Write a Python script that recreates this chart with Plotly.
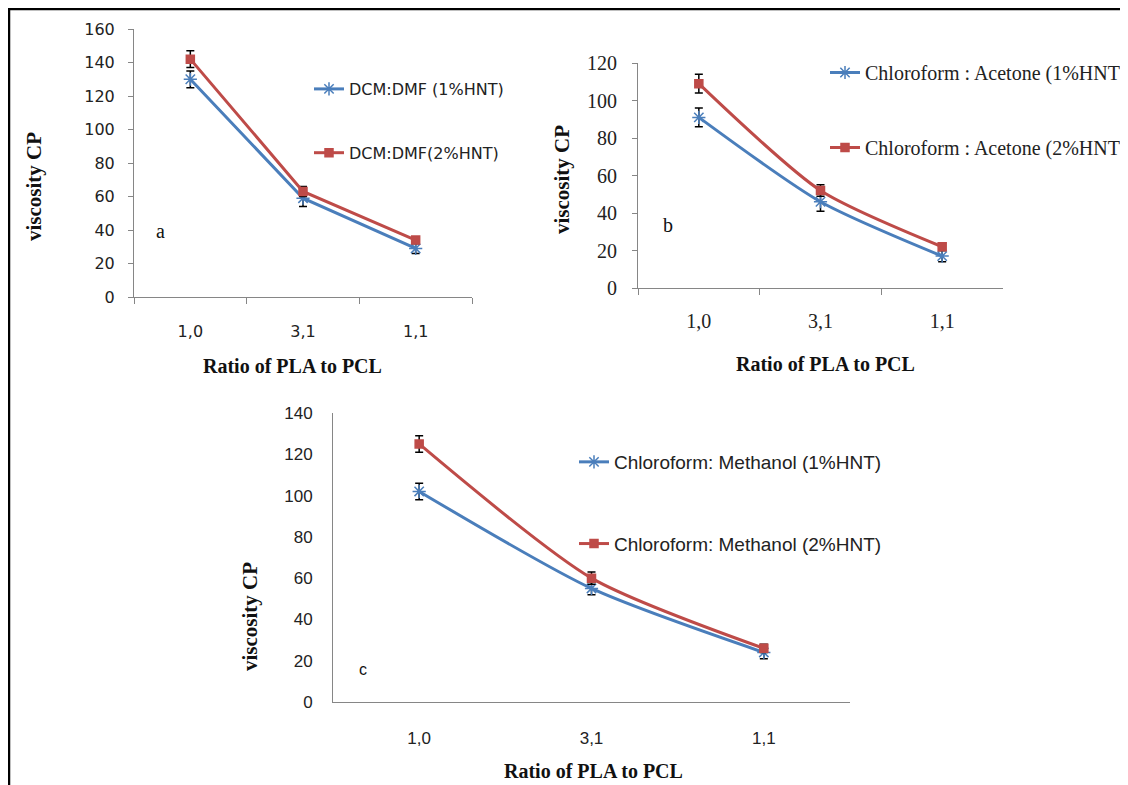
import plotly.graph_objects as go

# page body has an 8px margin; the figure is offset accordingly
OFF = 8
W, H = 1120, 777

ratios = ["1,0", "3,1", "1,1"]

a_1hnt = [130, 59, 29]
a_2hnt = [142, 63, 34]
a_err1 = [5, 5, 3]
a_err2 = [5, 3, 2]

b_1hnt = [91, 46, 17]
b_2hnt = [109, 52, 22]
b_err1 = [5, 5, 3]
b_err2 = [5, 3, 2]

c_1hnt = [102, 55, 24]
c_2hnt = [125, 60, 26]
c_err1 = [4, 3, 3]
c_err2 = [4, 3, 2]

names_a = ["DCM:DMF (1%HNT)", "DCM:DMF(2%HNT)"]
names_b = ["Chloroform : Acetone (1%HNT)", "Chloroform : Acetone (2%HNT)"]
names_c = ["Chloroform: Methanol (1%HNT)", "Chloroform: Methanol (2%HNT)"]

BLUE = "#4A7EBB"
RED = "#BE4B48"
AX = "#868686"

WSANS = "DejaVu Sans, Verdana, sans-serif"
SANS = "Liberation Sans, Arial, sans-serif"
SERIF = "Liberation Serif, Times New Roman, serif"


def px(x):
    return (x - OFF) / W


def py(y):
    return 1 - (y - OFF) / H


fig = go.Figure()


def add_pair(xa, ya, v1, v2, e1, e2, names, legend, shape):
    for vals, err, name, color, sym, msize, grp in [
        (v1, e1, names[0], BLUE, "asterisk-open", 11, "g1"),
        (v2, e2, names[1], RED, "square", 8, "g2"),
    ]:
        fig.add_trace(go.Scatter(
            x=ratios, y=vals, name=name, mode="lines+markers",
            xaxis=xa, yaxis=ya, legend=legend, legendgroup=grp,
            line=dict(color=color, width=3, shape=shape, smoothing=0.7),
            marker=dict(symbol=sym, size=msize, color=color,
                        line=dict(color=color, width=1.5)),
            error_y=dict(type="data", array=err, visible=True,
                         color="black", thickness=1.5, width=4),
        ))


add_pair("x", "y", a_1hnt, a_2hnt, a_err1, a_err2, names_a, "legend", "linear")
add_pair("x2", "y2", b_1hnt, b_2hnt, b_err1, b_err2, names_b, "legend2", "spline")
add_pair("x3", "y3", c_1hnt, c_2hnt, c_err1, c_err2, names_c, "legend3", "spline")

xcommon = dict(type="category", range=[-0.5, 2.5], showline=True, linecolor=AX,
               linewidth=1, showgrid=False, zeroline=False, fixedrange=True)
ycommon = dict(showline=True, linecolor=AX, linewidth=1, showgrid=False,
               zeroline=False)

fig.update_layout(
    width=W, height=H,
    margin=dict(l=0, r=0, t=0, b=0, autoexpand=False),
    paper_bgcolor="white", plot_bgcolor="white",
    showlegend=True,
    xaxis=dict(**xcommon, domain=[px(134), px(472)], anchor="y",
               ticks="outside", tickson="boundaries", ticklen=6, tickcolor=AX,
               ticklabelstandoff=20,
               tickfont=dict(family=WSANS, size=16, color="#222")),
    yaxis=dict(**ycommon, domain=[py(297), py(29)], anchor="x", range=[0, 160],
               tickvals=[0, 20, 40, 60, 80, 100, 120, 140, 160],
               ticks="outside", ticklen=5, tickcolor=AX, ticklabelstandoff=10,
               tickfont=dict(family=WSANS, size=16, color="#222")),
    xaxis2=dict(**xcommon, domain=[px(638), px(1003)], anchor="y2",
                ticks="outside", tickson="boundaries", ticklen=6, tickcolor=AX,
                ticklabelstandoff=15,
                tickfont=dict(family=SERIF, size=20, color="#222")),
    yaxis2=dict(**ycommon, domain=[py(288), py(63)], anchor="x2", range=[0, 120],
                tickvals=[0, 20, 40, 60, 80, 100, 120],
                ticks="outside", ticklen=5, tickcolor=AX, ticklabelstandoff=11,
                tickfont=dict(family=SERIF, size=20, color="#222")),
    xaxis3=dict(**xcommon, domain=[px(333), px(850)], anchor="y3",
                ticks="", ticklabelstandoff=21,
                tickfont=dict(family=SANS, size=17, color="#222")),
    yaxis3=dict(**ycommon, domain=[py(702), py(413)], anchor="x3", range=[0, 140],
                tickvals=[0, 20, 40, 60, 80, 100, 120, 140],
                ticks="", ticklabelstandoff=16,
                tickfont=dict(family=SANS, size=17, color="#222")),
    legend=dict(x=px(309), y=py(72), xanchor="left", yanchor="top",
                orientation="v", tracegroupgap=40, bgcolor="rgba(0,0,0,0)",
                font=dict(family=WSANS, size=16, color="#222"), itemwidth=30),
    legend2=dict(x=px(825), y=py(53), xanchor="left", yanchor="top",
                 orientation="v", tracegroupgap=46, bgcolor="rgba(0,0,0,0)",
                 font=dict(family=SERIF, size=20, color="#222"), itemwidth=30),
    legend3=dict(x=px(574), y=py(443), xanchor="left", yanchor="top",
                 orientation="v", tracegroupgap=54, bgcolor="rgba(0,0,0,0)",
                 font=dict(family=SANS, size=19, color="#222"), itemwidth=30),
)

annotations = [
    dict(text="viscosity CP", x=px(34), y=py(187), textangle=-90,
         font=dict(family=SERIF, size=21, color="#111", weight="bold")),
    dict(text="Ratio of PLA to PCL", x=px(292), y=py(366),
         font=dict(family=SERIF, size=20, color="#111", weight="bold")),
    dict(text="a", x=px(161), y=py(231), font=dict(family=SERIF, size=20, color="#111")),
    dict(text="viscosity CP", x=px(562), y=py(180), textangle=-90,
         font=dict(family=SERIF, size=21, color="#111", weight="bold")),
    dict(text="Ratio of PLA to PCL", x=px(825), y=py(364),
         font=dict(family=SERIF, size=20, color="#111", weight="bold")),
    dict(text="b", x=px(668), y=py(225), font=dict(family=SERIF, size=20, color="#111")),
    dict(text="viscosity CP", x=px(250), y=py(617), textangle=-90,
         font=dict(family=SERIF, size=21, color="#111", weight="bold")),
    dict(text="Ratio of PLA to PCL", x=px(593), y=py(771),
         font=dict(family=SERIF, size=20, color="#111", weight="bold")),
    dict(text="c", x=px(363), y=py(669), font=dict(family=SANS, size=16, color="#111")),
]
for a in annotations:
    fig.add_annotation(xref="paper", yref="paper", showarrow=False,
                       xanchor="center", yanchor="middle", **a)

# black frame lines at the left and top edges
fig.add_shape(type="line", xref="paper", yref="paper",
              x0=px(8.5), x1=px(8.5), y0=0, y1=py(7), line=dict(color="black", width=3.5))
fig.add_shape(type="line", xref="paper", yref="paper",
              x0=px(7), x1=1, y0=py(8.5), y1=py(8.5), line=dict(color="black", width=3.5))

fig.write_html("out.html")
